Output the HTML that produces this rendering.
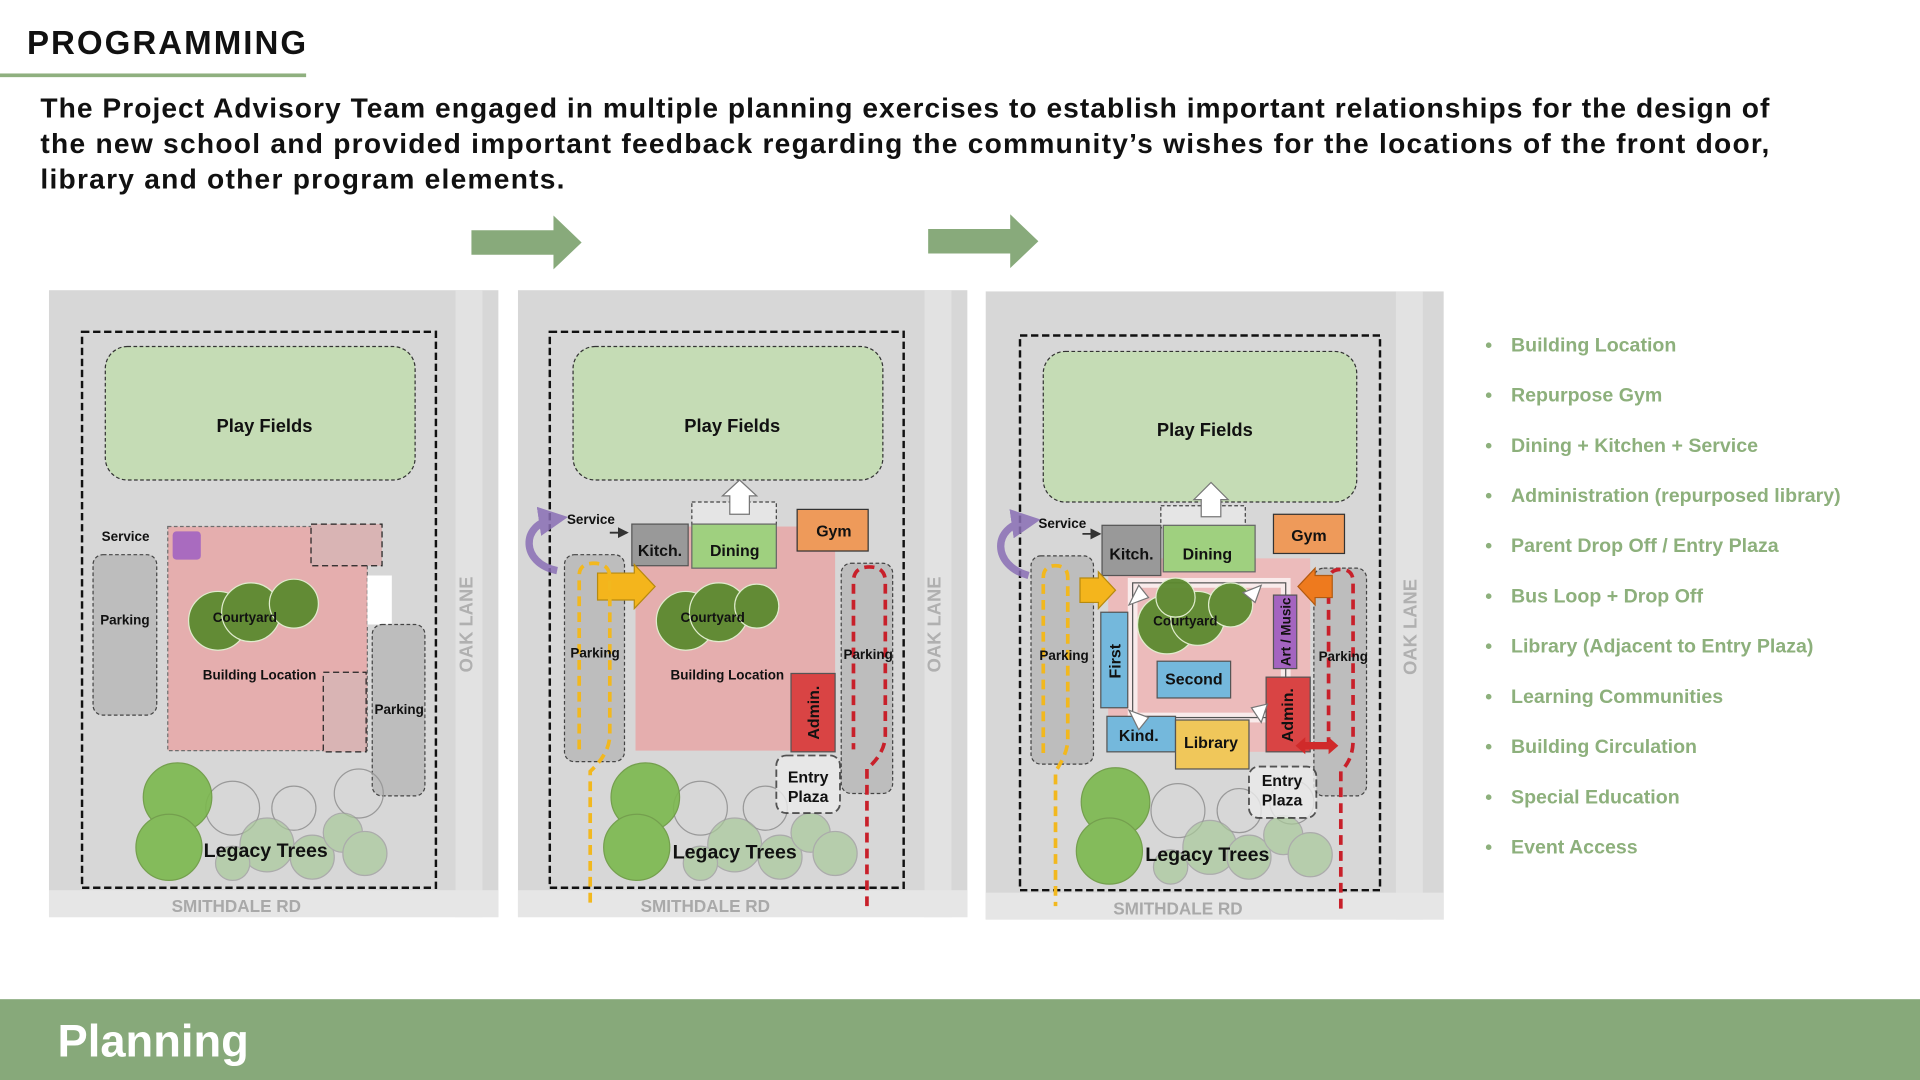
<!DOCTYPE html>
<html><head><meta charset="utf-8"><style>
html,body{margin:0;padding:0;background:#fff;width:1920px;height:1080px;overflow:hidden}
svg{display:block}
text{font-family:"Liberation Sans",sans-serif;font-weight:bold}
</style></head><body>
<svg width="1920" height="1080" viewBox="0 0 1568 882" xmlns="http://www.w3.org/2000/svg">
<defs>
<marker id="ah" markerWidth="6" markerHeight="6" refX="5" refY="3" orient="auto"><path d="M0,0 L6,3 L0,6z" fill="#333"/></marker>
<marker id="ph" markerWidth="4" markerHeight="4" refX="2" refY="2" orient="auto"><path d="M0,0 L4,2 L0,4z" fill="#8a6fb5"/></marker>
<g id="bg">
<rect x="0" y="0" width="367" height="512" fill="#d7d7d7"/>
<rect x="332" y="0" width="22" height="512" fill="#e2e2e2"/>
<rect x="0" y="490" width="367" height="22" fill="#e6e6e6"/>
</g>
</defs>

<text x="22" y="44" font-size="27" fill="#111" textLength="228">PROGRAMMING</text>
<rect x="0" y="60" width="250" height="3" fill="#8fb07f"/>
<text x="33" y="96" font-size="23" fill="#111" textLength="1412">The Project Advisory Team engaged in multiple planning exercises to establish important  relationships for the design of</text>
<text x="33" y="125" font-size="23" fill="#111" textLength="1412">the new school and provided important feedback regarding the community’s wishes for the locations of the front door,</text>
<text x="33" y="154" font-size="23" fill="#111" textLength="428">library and other program elements.</text>

<path d="M385,188 H452 V176 L475,198 L452,220 V208 H385z" fill="#88aa7b"/>
<path d="M758,187 H825 V175 L848,197 L825,219 V207 H758z" fill="#88aa7b"/>

<!-- Panel 1 -->
<g transform="translate(40,237)"><use href="#bg"/></g>
<rect x="67" y="271" width="289" height="454" fill="none" stroke="#111" stroke-width="2" stroke-dasharray="6,3"/>
<rect x="86" y="283" width="253" height="109" rx="18" fill="#c5dcb5" stroke="#333" stroke-dasharray="3,2"/>
<text x="216" y="353" font-size="15" text-anchor="middle" fill="#111">Play Fields</text>
<rect x="137" y="430" width="163" height="183" fill="#e9a4a4" opacity=".8" stroke="#555" stroke-dasharray="3,2"/>
<rect x="141" y="434" width="23" height="23" rx="3" fill="#a96bbf"/>
<rect x="254" y="428" width="58" height="34" fill="#d9b4b4" stroke="#222" stroke-dasharray="5,3"/>
<rect x="300" y="470" width="20" height="40" fill="#fff"/>
<rect x="264" y="549" width="35" height="65" fill="#d9b4b4" stroke="#222" stroke-dasharray="5,3"/>
<text x="83" y="442" font-size="11" fill="#111">Service</text>
<rect x="76" y="453" width="52" height="131" rx="8" fill="#bdbdbd" stroke="#444" stroke-dasharray="3,2"/>
<text x="102" y="510" font-size="11" text-anchor="middle" fill="#111">Parking</text>
<rect x="304" y="510" width="43" height="140" rx="8" fill="#bdbdbd" stroke="#444" stroke-dasharray="3,2"/>
<text x="326" y="583" font-size="11" text-anchor="middle" fill="#111">Parking</text>
<g fill="#5c8a2f" stroke="#e0f0d0" stroke-width="1" opacity=".95">
<circle cx="178" cy="507" r="24"/><circle cx="205" cy="500" r="24"/><circle cx="240" cy="493" r="20"/>
</g>
<text x="200" y="508" font-size="11" text-anchor="middle" fill="#111">Courtyard</text>
<text x="212" y="555" font-size="11" text-anchor="middle" fill="#111">Building Location</text>
<g fill="none" stroke="#999"><circle cx="190" cy="660" r="22"/><circle cx="240" cy="660" r="18"/><circle cx="293" cy="648" r="20"/></g>
<g fill="#a9c99a" opacity=".7" stroke="#999"><circle cx="218" cy="690" r="22"/><circle cx="255" cy="700" r="18"/><circle cx="280" cy="680" r="16"/><circle cx="298" cy="697" r="18"/><circle cx="190" cy="705" r="14"/></g>
<g fill="#7cb84e" opacity=".9" stroke="#6a9a40"><circle cx="145" cy="651" r="28"/><circle cx="138" cy="692" r="27"/></g>
<text x="217" y="700" font-size="16" text-anchor="middle" fill="#111">Legacy Trees</text>
<text x="193" y="745" font-size="14" text-anchor="middle" fill="#a9a9a9">SMITHDALE RD</text>
<text transform="translate(386,510) rotate(-90)" font-size="15" text-anchor="middle" fill="#b0b0b0">OAK LANE</text>

<!-- Panel 2 -->
<g transform="translate(423,237)"><use href="#bg"/></g>
<rect x="449" y="271" width="289" height="454" fill="none" stroke="#111" stroke-width="2" stroke-dasharray="6,3"/>
<rect x="468" y="283" width="253" height="109" rx="18" fill="#c5dcb5" stroke="#333" stroke-dasharray="3,2"/>
<text x="598" y="353" font-size="15" text-anchor="middle" fill="#111">Play Fields</text>
<rect x="519" y="430" width="163" height="183" fill="#e9a4a4" opacity=".8"/>
<rect x="565" y="410" width="69" height="18" fill="#e5e5e5" stroke="#444" stroke-dasharray="3,2"/>
<path d="M596,420 V405 H590 L604,392 L618,405 H612 V420z" fill="#fff" stroke="#777"/>
<rect x="516" y="428" width="46" height="34" fill="#999" stroke="#555"/>
<text x="539" y="454" font-size="13" text-anchor="middle" fill="#111" font-weight="normal">Kitch.</text>
<rect x="565" y="428" width="69" height="36" fill="#9fd07f" stroke="#666"/>
<text x="600" y="454" font-size="13" text-anchor="middle" fill="#111" font-weight="normal">Dining</text>
<rect x="651" y="416" width="58" height="34" fill="#ee9a5a" stroke="#333"/>
<text x="681" y="438" font-size="13" text-anchor="middle" fill="#111" font-weight="normal">Gym</text>
<line x1="498" y1="435" x2="512" y2="435" stroke="#333" stroke-width="1.5" marker-end="url(#ah)"/>
<text x="463" y="428" font-size="11" fill="#111">Service</text>
<path d="M455,466 C425,460 425,428 452,424" fill="none" stroke="#8a6fb5" stroke-width="6" opacity=".85" marker-end="url(#ph)"/>
<rect x="461" y="453" width="49" height="169" rx="8" fill="#bdbdbd" stroke="#444" stroke-dasharray="3,2"/>
<rect x="687" y="460" width="42" height="188" rx="8" fill="#bdbdbd" stroke="#444" stroke-dasharray="3,2"/>
<path d="M488,468 H518 V461 L535,479 L518,497 V490 H488z" fill="#f4b51c" stroke="#b78a10"/>
<path d="M473,612 V470 Q473,460 485,460 Q498,460 498,472 V600 Q498,615 482,630 V740" fill="none" stroke="#f2b81e" stroke-width="3" stroke-dasharray="8,5"/>
<path d="M708,740 V628 Q723,615 723,600 V475 Q723,463 710,463 Q697,463 697,475 V612" fill="none" stroke="#c8202a" stroke-width="3" stroke-dasharray="8,5"/>
<text x="486" y="537" font-size="11" text-anchor="middle" fill="#111">Parking</text>
<text x="709" y="538" font-size="11" text-anchor="middle" fill="#111">Parking</text>
<rect x="646" y="550" width="36" height="64" fill="#d94444" stroke="#555"/>
<text transform="translate(669,582) rotate(-90)" font-size="13" text-anchor="middle" fill="#111">Admin.</text>
<g fill="#5c8a2f" stroke="#e0f0d0" opacity=".95"><circle cx="560" cy="507" r="24"/><circle cx="587" cy="500" r="24"/><circle cx="618" cy="495" r="18"/></g>
<text x="582" y="508" font-size="11" text-anchor="middle" fill="#111">Courtyard</text>
<text x="594" y="555" font-size="11" text-anchor="middle" fill="#111">Building Location</text>
<g fill="none" stroke="#999"><circle cx="572" cy="660" r="22"/><circle cx="625" cy="660" r="18"/></g>
<g fill="#a9c99a" opacity=".7" stroke="#999"><circle cx="600" cy="690" r="22"/><circle cx="637" cy="700" r="18"/><circle cx="662" cy="680" r="16"/><circle cx="682" cy="697" r="18"/><circle cx="572" cy="705" r="14"/></g>
<g fill="#7cb84e" opacity=".9" stroke="#6a9a40"><circle cx="527" cy="651" r="28"/><circle cx="520" cy="692" r="27"/></g>
<rect x="634" y="617" width="52" height="47" rx="8" fill="#ececec" opacity=".8" stroke="#333" stroke-width="1.5" stroke-dasharray="6,3"/>
<text x="660" y="639" font-size="13" text-anchor="middle" fill="#111" font-weight="normal">Entry</text>
<text x="660" y="655" font-size="13" text-anchor="middle" fill="#111" font-weight="normal">Plaza</text>
<text x="600" y="701" font-size="16" text-anchor="middle" fill="#111">Legacy Trees</text>
<text x="576" y="745" font-size="14" text-anchor="middle" fill="#a9a9a9">SMITHDALE RD</text>
<text transform="translate(768,510) rotate(-90)" font-size="15" text-anchor="middle" fill="#b0b0b0">OAK LANE</text>

<!-- Panel 3 -->
<rect x="805" y="238" width="374" height="513" fill="#d7d7d7"/>
<rect x="1140" y="238" width="22" height="513" fill="#e2e2e2"/>
<rect x="805" y="729" width="374" height="22" fill="#e6e6e6"/>
<rect x="833" y="274" width="294" height="453" fill="none" stroke="#111" stroke-width="2" stroke-dasharray="6,3"/>
<rect x="852" y="287" width="256" height="123" rx="18" fill="#c5dcb5" stroke="#333" stroke-dasharray="3,2"/>
<text x="984" y="356" font-size="15" text-anchor="middle" fill="#111">Play Fields</text>
<rect x="905" y="456" width="165" height="158" fill="#eeb8b8" opacity=".9"/>
<rect x="925" y="476" width="125" height="110" fill="none" stroke="#fff" stroke-width="8" opacity=".7"/>
<rect x="925" y="476" width="125" height="110" fill="none" stroke="#555" stroke-width="1"/>
<rect x="948" y="413" width="69" height="18" fill="#e5e5e5" stroke="#444" stroke-dasharray="3,2"/>
<path d="M981,422 V408 H975 L989,394 L1003,408 H997 V422z" fill="#fff" stroke="#777"/>
<rect x="900" y="429" width="48" height="41" fill="#999" stroke="#555"/>
<text x="924" y="457" font-size="13" text-anchor="middle" fill="#111" font-weight="normal">Kitch.</text>
<rect x="950" y="429" width="75" height="38" fill="#9fd07f" stroke="#666"/>
<text x="986" y="457" font-size="13" text-anchor="middle" fill="#111" font-weight="normal">Dining</text>
<rect x="1040" y="420" width="58" height="32" fill="#ee9a5a" stroke="#333"/>
<text x="1069" y="442" font-size="13" text-anchor="middle" fill="#111" font-weight="normal">Gym</text>
<line x1="884" y1="436" x2="898" y2="436" stroke="#333" stroke-width="1.5" marker-end="url(#ah)"/>
<text x="848" y="431" font-size="11" fill="#111">Service</text>
<path d="M840,470 C810,462 810,430 838,426" fill="none" stroke="#8a6fb5" stroke-width="6" opacity=".85" marker-end="url(#ph)"/>
<rect x="842" y="454" width="51" height="170" rx="8" fill="#bdbdbd" stroke="#444" stroke-dasharray="3,2"/>
<rect x="1073" y="464" width="43" height="186" rx="8" fill="#bdbdbd" stroke="#444" stroke-dasharray="3,2"/>
<path d="M852,615 V472 Q852,462 862,462 Q872,462 872,472 V604 Q872,615 862,630 V740" fill="none" stroke="#f2b81e" stroke-width="3" stroke-dasharray="8,5"/>
<path d="M1095,742 V630 Q1105,620 1105,605 V475 Q1105,465 1095,465 Q1085,465 1085,475 V612" fill="none" stroke="#c8202a" stroke-width="3" stroke-dasharray="8,5"/>
<path d="M882,472 H897 V467 L911,482 L897,497 V492 H882z" fill="#f4b51c" stroke="#b78a10"/>
<path d="M1088,470 H1074 V464 L1060,479 L1074,494 V488 H1088z" fill="#ee7a1e" stroke="#b35a10"/>
<text x="869" y="539" font-size="11" text-anchor="middle" fill="#111">Parking</text>
<text x="1097" y="540" font-size="11" text-anchor="middle" fill="#111">Parking</text>
<g fill="#5c8a2f" stroke="#e0f0d0" opacity=".95"><circle cx="953" cy="510" r="24"/><circle cx="978" cy="505" r="22"/><circle cx="1005" cy="494" r="18"/><circle cx="960" cy="488" r="16"/></g>
<text x="968" y="511" font-size="11" text-anchor="middle" fill="#111">Courtyard</text>
<rect x="899" y="500" width="22" height="78" fill="#74b8dc" stroke="#555"/>
<text transform="translate(915,540) rotate(-90)" font-size="13" text-anchor="middle" fill="#111">First</text>
<rect x="945" y="540" width="60" height="30" fill="#74b8dc" stroke="#555"/>
<text x="975" y="559" font-size="13" text-anchor="middle" fill="#111" font-weight="normal">Second</text>
<rect x="1040" y="486" width="19" height="60" fill="#a464c0" stroke="#555"/>
<text transform="translate(1054,516) rotate(-90)" font-size="11" text-anchor="middle" fill="#111" font-weight="normal">Art / Music</text>
<rect x="1034" y="553" width="36" height="61" fill="#d94444" stroke="#555"/>
<text transform="translate(1056,584) rotate(-90)" font-size="13" text-anchor="middle" fill="#111">Admin.</text>
<rect x="904" y="585" width="56" height="29" fill="#74b8dc" stroke="#555"/>
<text x="930" y="605" font-size="13" text-anchor="middle" fill="#111">Kind.</text>
<rect x="960" y="588" width="60" height="40" fill="#f0c75a" stroke="#555"/>
<text x="989" y="611" font-size="13" text-anchor="middle" fill="#111" font-weight="normal">Library</text>
<g fill="#fff" stroke="#777"><path d="M922,494 L930,478 L938,488z"/><path d="M1030,478 L1025,492 L1015,484z"/><path d="M922,580 L930,596 L938,586z"/><path d="M1030,590 L1022,578 L1035,575z"/></g>
<path d="M1058,609 L1066,602 V606 H1085 V602 L1093,609 L1085,616 V612 H1066 V616z" fill="#d02a2a"/>
<g fill="none" stroke="#999"><circle cx="962" cy="662" r="22"/><circle cx="1012" cy="662" r="18"/><circle cx="1055" cy="655" r="18"/></g>
<g fill="#a9c99a" opacity=".7" stroke="#999"><circle cx="988" cy="692" r="22"/><circle cx="1020" cy="700" r="18"/><circle cx="1048" cy="682" r="16"/><circle cx="1070" cy="698" r="18"/><circle cx="956" cy="708" r="14"/></g>
<g fill="#7cb84e" opacity=".9" stroke="#6a9a40"><circle cx="911" cy="655" r="28"/><circle cx="906" cy="695" r="27"/></g>
<rect x="1020" y="626" width="55" height="42" rx="8" fill="#ececec" opacity=".8" stroke="#333" stroke-width="1.5" stroke-dasharray="6,3"/>
<text x="1047" y="642" font-size="13" text-anchor="middle" fill="#111" font-weight="normal">Entry</text>
<text x="1047" y="658" font-size="13" text-anchor="middle" fill="#111" font-weight="normal">Plaza</text>
<text x="986" y="703" font-size="16" text-anchor="middle" fill="#111">Legacy Trees</text>
<text x="962" y="747" font-size="14" text-anchor="middle" fill="#a9a9a9">SMITHDALE RD</text>
<text transform="translate(1157,512) rotate(-90)" font-size="15" text-anchor="middle" fill="#b0b0b0">OAK LANE</text>

<!-- List -->
<g font-size="16" fill="#8db07c">
<text x="1213" y="287">•</text><text x="1234" y="287">Building Location</text>
<text x="1213" y="328">•</text><text x="1234" y="328">Repurpose Gym</text>
<text x="1213" y="369">•</text><text x="1234" y="369">Dining + Kitchen + Service</text>
<text x="1213" y="410">•</text><text x="1234" y="410">Administration (repurposed library)</text>
<text x="1213" y="451">•</text><text x="1234" y="451">Parent Drop Off / Entry Plaza</text>
<text x="1213" y="492">•</text><text x="1234" y="492">Bus Loop + Drop Off</text>
<text x="1213" y="533">•</text><text x="1234" y="533">Library (Adjacent to Entry Plaza)</text>
<text x="1213" y="574">•</text><text x="1234" y="574">Learning Communities</text>
<text x="1213" y="615">•</text><text x="1234" y="615">Building Circulation</text>
<text x="1213" y="656">•</text><text x="1234" y="656">Special Education</text>
<text x="1213" y="697">•</text><text x="1234" y="697">Event Access</text>
</g>

<rect x="0" y="816" width="1568" height="66" fill="#87a97a"/>
<text x="47" y="863" font-size="37" fill="#fff">Planning</text>
</svg>
</body></html>
